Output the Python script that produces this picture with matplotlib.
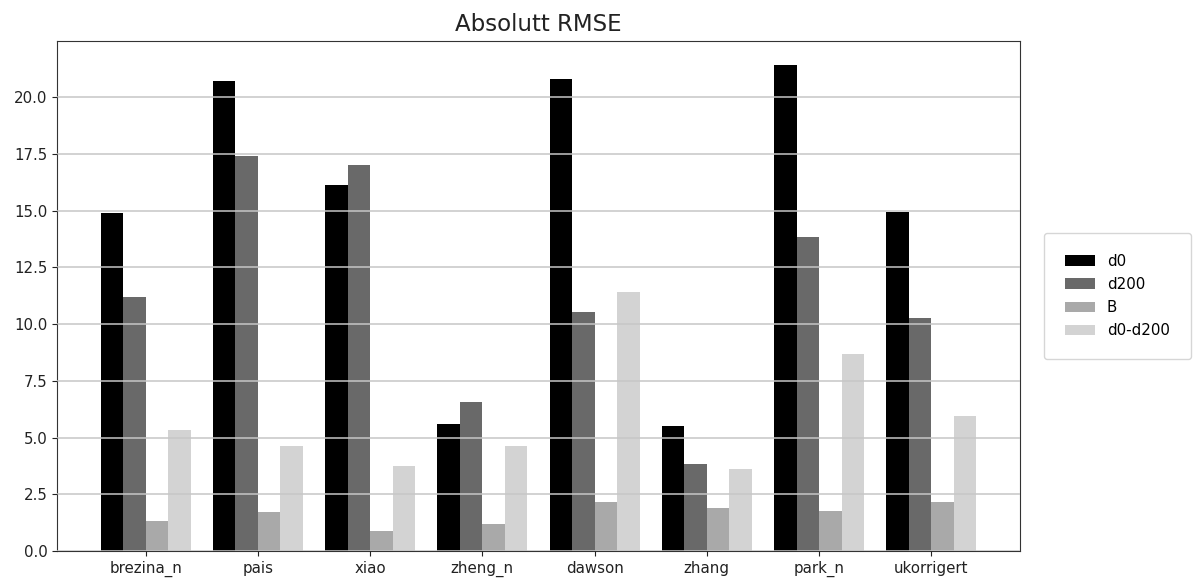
import matplotlib

matplotlib.use("Agg")
import matplotlib.pyplot as plt
import numpy as np

methods = ["brezina_n", "pais", "xiao", "zheng_n", "dawson", "zhang", "park_n", "ukorrigert"]
series_names = ["d0", "d200", "B", "d0-d200"]
rmse_d0 = [14.89, 20.72, 16.11, 5.60, 20.78, 5.52, 21.40, 14.93]
rmse_d200 = [11.18, 17.42, 17.00, 6.56, 10.54, 3.82, 13.85, 10.27]
rmse_b = [1.31, 1.73, 0.90, 1.19, 2.16, 1.89, 1.75, 2.16]
rmse_diff = [5.32, 4.63, 3.73, 4.63, 11.43, 3.60, 8.69, 5.94]
colors = ["black", "dimgray", "darkgray", "lightgray"]

fig = plt.figure(figsize=(12, 5.83), dpi=100)
ax = fig.add_axes([0.0475, 0.0549, 0.8025, 0.8748])

x = np.arange(len(methods))
width = 0.2
for i, (name, values) in enumerate(zip(series_names, [rmse_d0, rmse_d200, rmse_b, rmse_diff])):
    ax.bar(x + (i - 1.5) * width, values, width, color=colors[i], label=name)

# grid lines sit on top of the bars
ax.set_axisbelow(False)
ax.yaxis.grid(True, color="#c6c6c6", linewidth=1.1)
for spine in ax.spines.values():
    spine.set_color("#333333")
ax.set_xticks(x)
ax.set_xticklabels(methods)
ax.tick_params(labelsize=10.8, colors="#222222")
ax.set_title("Absolutt RMSE", fontsize=16.5, pad=7, color="#222222")
ax.legend(loc="center left", bbox_to_anchor=(1.017, 0.5), fontsize=10.8,
          borderpad=1.4, labelspacing=0.55)

fig.savefig("out.png", dpi=100)
